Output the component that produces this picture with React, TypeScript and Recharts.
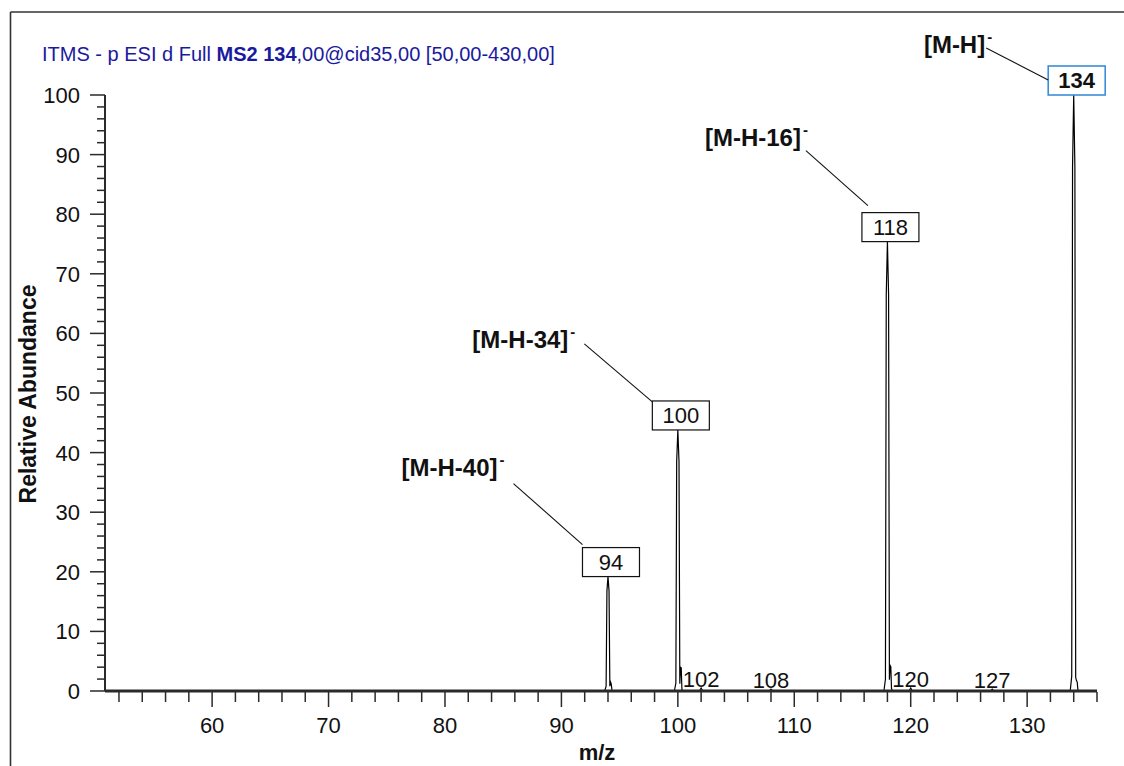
import React from 'react';
import { ComposedChart, Line, Scatter, XAxis, YAxis } from 'recharts';

const FONT = '"Liberation Sans", Arial, Helvetica, sans-serif';
const INK = '#111';
const AXIS = '#2a2a2a';

// Annotated fragment ions: m/z, relative abundance (%) and assignment
const ionMz = [94, 100, 118, 134];
const ionAbundance = [19.2, 43.8, 75.4, 100];
const ionNames = ['[M-H-40]', '[M-H-34]', '[M-H-16]', '[M-H]'];

// Small labelled peaks close to the baseline
const minorMz = [102, 108, 120, 127];
const minorAbundance = [0.5, 0.3, 0.5, 0.3];

// Profile points on the flanks of the annotated peaks (m/z, abundance %)
const flanks94: [number, number][] = [
  [93.72, 0], [93.84, 0.8], [93.91, 16.8], [94.09, 16.8], [94.16, 0.8], [94.22, 1.5], [94.28, 1.2], [94.35, 0],
];
const flanks100: [number, number][] = [
  [99.7, 0], [99.83, 1.3], [99.9, 38.5], [100.1, 38.5], [100.17, 1.2], [100.23, 4.0], [100.29, 3.9], [100.35, 0.3], [100.44, 0],
];
const flanks118: [number, number][] = [
  [117.7, 0], [117.83, 2.0], [117.9, 66.5], [118.1, 66.5], [118.17, 1.9], [118.23, 4.3], [118.29, 4.1], [118.35, 0.4], [118.44, 0],
];
const flanks134: [number, number][] = [
  [133.7, 0], [133.83, 2.5], [133.9, 88], [134.1, 88], [134.17, 2.3], [134.23, 1.8], [134.3, 1.5], [134.37, 0],
];
const minorFlanks: [number, number][] = [
  [101.86, 0], [102.14, 0], [107.86, 0], [108.14, 0], [119.86, 0], [120.14, 0], [126.86, 0], [127.14, 0],
];
const scanEnds: [number, number][] = [[50.8, 0], [136, 0]];

// Axis ticks
const xDomain: [number, number] = [50.8, 136];
const xMajorTicks = [60, 70, 80, 90, 100, 110, 120, 130];
const yMajorTicks = [0, 10, 20, 30, 40, 50, 60, 70, 80, 90, 100];
const xTicks = Array.from({ length: 43 }, (_, i) => 52 + i * 2);
const yTicks = Array.from({ length: 51 }, (_, i) => i * 2);

// Callout geometry for each annotated ion, relative to its box's top-left corner
const calloutLayout = [
  { textX: -85, textY: -72, from: [-69, -64], to: [0, -3] },
  { textX: -84, textY: -53, from: [-68, -57], to: [0, 1] },
  { textX: -61, textY: -67, from: [-56, -62], to: [6, -7] },
  { textX: -63, textY: -13, from: [-62, -18], to: [0, 14] },
];

type Pt = { mz: number; ab: number };

const spectrum: Pt[] = [
  ...scanEnds,
  ...flanks94,
  ...flanks100,
  ...flanks118,
  ...flanks134,
  ...minorFlanks,
  ...ionMz.map((m, i) => [m, ionAbundance[i]] as [number, number]),
  ...minorMz.map((m, i) => [m, minorAbundance[i]] as [number, number]),
]
  .map(([mz, ab]) => ({ mz, ab }))
  .sort((a, b) => a.mz - b.mz);

const ionPoints = ionMz.map((mz, i) => ({ mz, ab: ionAbundance[i], name: ionNames[i], idx: i }));
const minorPoints = minorMz.map((mz, i) => ({ mz, ab: minorAbundance[i] }));

const BOX_W = 57;
const BOX_H = 29;

const IonCallout = (props: any) => {
  const { cx, cy, payload } = props;
  if (cx == null || cy == null) return null;
  const lay = calloutLayout[payload.idx];
  const bx = cx + 3 - BOX_W / 2;
  const by = cy - BOX_H;
  const isBase = payload.ab === 100;
  return (
    <g>
      <rect
        x={bx}
        y={by}
        width={BOX_W}
        height={BOX_H}
        fill="#fff"
        stroke={isBase ? '#3a8ed8' : '#111'}
        strokeWidth={isBase ? 1.6 : 1.2}
      />
      <text
        x={bx + BOX_W / 2}
        y={by + 22}
        textAnchor="middle"
        fontSize={22}
        fontWeight={isBase ? 'bold' : 'normal'}
        fontFamily={FONT}
        fill={INK}
      >
        {payload.mz}
      </text>
      <line
        x1={bx + lay.from[0]}
        y1={by + lay.from[1]}
        x2={bx + lay.to[0]}
        y2={by + lay.to[1]}
        stroke="#111"
        strokeWidth={1.1}
      />
      <text
        x={bx + lay.textX}
        y={by + lay.textY}
        textAnchor="end"
        fontSize={24}
        fontWeight="bold"
        fontFamily={FONT}
        fill={INK}
      >
        {payload.name}
      </text>
      <text
        x={bx + lay.textX + 2}
        y={by + lay.textY - 11}
        textAnchor="start"
        fontSize={15}
        fontWeight="bold"
        fontFamily={FONT}
        fill={INK}
      >
        -
      </text>
    </g>
  );
};

const MinorLabel = (props: any) => {
  const { cx, cy, payload } = props;
  if (cx == null || cy == null) return null;
  return (
    <text x={cx} y={cy - 1} textAnchor="middle" fontSize={22} fontFamily={FONT} fill={INK}>
      {payload.mz}
    </text>
  );
};

const XTick = (props: any) => {
  const { x, y, payload } = props;
  const v = payload.value;
  const major = xMajorTicks.includes(v);
  return (
    <g>
      <line x1={x} x2={x} y1={y + 1} y2={y + (major ? 16 : 11)} stroke={AXIS} strokeWidth={1.5} />
      {major && (
        <text x={x} y={y + 42} textAnchor="middle" fontSize={22} fontFamily={FONT} fill={INK}>
          {v}
        </text>
      )}
    </g>
  );
};

const YTick = (props: any) => {
  const { x, y, payload } = props;
  const v = payload.value;
  const major = yMajorTicks.includes(v);
  return (
    <g>
      <line x1={x - (major ? 15 : 8)} x2={x} y1={y} y2={y} stroke={AXIS} strokeWidth={1.5} />
      {major && (
        <text x={x - 25} y={y + 8} textAnchor="end" fontSize={22} fontFamily={FONT} fill={INK}>
          {v}
        </text>
      )}
    </g>
  );
};

export default function App() {
  return (
    <div
      style={{
        position: 'fixed',
        left: 0,
        top: 0,
        width: 1124,
        height: 766,
        background: '#fff',
        overflow: 'hidden',
      }}
    >
      <svg
        width={1124}
        height={766}
        style={{ position: 'absolute', left: 0, top: 0, pointerEvents: 'none' }}
      >
        <line x1={10.5} y1={12} x2={1124} y2={12} stroke="#333" strokeWidth={1.6} />
        <line x1={10.5} y1={12} x2={10.5} y2={766} stroke="#333" strokeWidth={1.6} />
        <text x={42} y={61} fontSize={20} fontFamily={FONT} fill="#1a1a9e">
          ITMS - p ESI d Full <tspan fontWeight="bold">MS2 134</tspan>,00@cid35,00 [50,00-430,00]
        </text>
        <text
          x={28}
          y={394}
          transform="rotate(-90 28 394)"
          textAnchor="middle"
          dominantBaseline="central"
          fontSize={23}
          fontWeight="bold"
          fontFamily={FONT}
          fill={INK}
        >
          Relative Abundance
        </text>
        <text x={597} y={760} textAnchor="middle" fontSize={22} fontWeight="bold" fontFamily={FONT} fill={INK}>
          m/z
        </text>
      </svg>
      <div style={{ position: 'absolute', left: 0, top: 0 }}>
        <ComposedChart
          width={1124}
          height={766}
          margin={{ top: 95, right: 27, bottom: 35, left: 45 }}
        >
          <XAxis
            type="number"
            dataKey="mz"
            domain={xDomain}
            ticks={xTicks}
            interval={0}
            tick={XTick}
            tickLine={false}
            tickSize={0}
            tickMargin={0}
            height={40}
            axisLine={{ stroke: AXIS, strokeWidth: 3 }}
          />
          <YAxis
            type="number"
            domain={[0, 100]}
            ticks={yTicks}
            interval={0}
            tick={YTick}
            tickLine={false}
            tickSize={0}
            tickMargin={0}
            width={60}
            axisLine={{ stroke: AXIS, strokeWidth: 2 }}
          />
          <Line
            data={spectrum}
            dataKey="ab"
            type="linear"
            stroke="#000"
            strokeWidth={1.2}
            dot={false}
            activeDot={false}
            isAnimationActive={false}
          />
          <Scatter data={minorPoints} dataKey="ab" shape={MinorLabel} isAnimationActive={false} />
          <Scatter data={ionPoints} dataKey="ab" shape={IonCallout} isAnimationActive={false} />
        </ComposedChart>
      </div>
    </div>
  );
}
